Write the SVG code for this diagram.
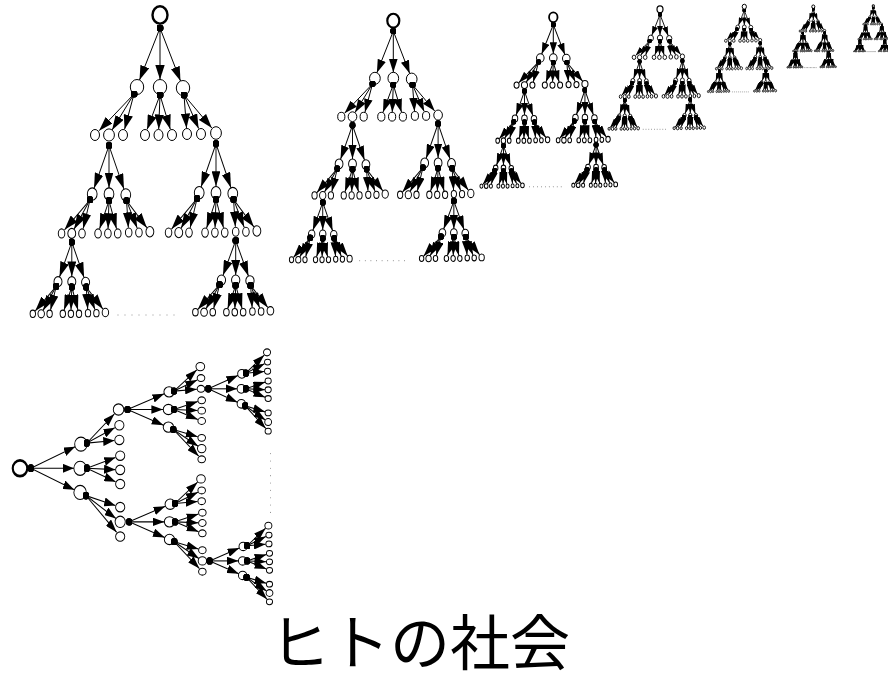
<svg xmlns="http://www.w3.org/2000/svg" width="888" height="673" viewBox="0 0 888 673">
<style>
.e{fill:#fff;stroke:#000}
.a{fill:none;stroke:#000}
.r{fill:#fff;stroke:#000}
.dl{fill:none;stroke:#777;stroke-dasharray:0 7;stroke-linecap:round;marker-start:none;marker-end:none}
.ttl{font-family:"Noto Sans CJK JP",sans-serif;font-size:60px;fill:#000}
</style>
<defs>
<marker id="m1" viewBox="0 0 10 6.5" refX="10" refY="3.25" markerWidth="14.5" markerHeight="9.4" orient="auto" markerUnits="strokeWidth"><path d="M0,0L10,3.25L0,6.5z"/></marker>
<marker id="m2" viewBox="0 0 10 6.5" refX="10" refY="3.25" markerWidth="13.3" markerHeight="8.6" orient="auto" markerUnits="strokeWidth"><path d="M0,0L10,3.25L0,6.5z"/></marker>
<marker id="m3" viewBox="0 0 10 6.5" refX="10" refY="3.25" markerWidth="11.4" markerHeight="7.4" orient="auto" markerUnits="strokeWidth"><path d="M0,0L10,3.25L0,6.5z"/></marker>
<marker id="m4" viewBox="0 0 10 6.5" refX="10" refY="3.25" markerWidth="10.2" markerHeight="6.6" orient="auto" markerUnits="strokeWidth"><path d="M0,0L10,3.25L0,6.5z"/></marker>
<marker id="m5" viewBox="0 0 10 6.5" refX="10" refY="3.25" markerWidth="9.6" markerHeight="6.2" orient="auto" markerUnits="strokeWidth"><path d="M0,0L10,3.25L0,6.5z"/></marker>
<marker id="m6" viewBox="0 0 10 6.5" refX="10" refY="3.25" markerWidth="8.4" markerHeight="5.5" orient="auto" markerUnits="strokeWidth"><path d="M0,0L10,3.25L0,6.5z"/></marker>
<marker id="m7" viewBox="0 0 10 6.5" refX="10" refY="3.25" markerWidth="8" markerHeight="5.2" orient="auto" markerUnits="strokeWidth"><path d="M0,0L10,3.25L0,6.5z"/></marker>
<marker id="m8" viewBox="0 0 10 6.5" refX="10" refY="3.25" markerWidth="12.5" markerHeight="8.1" orient="auto" markerUnits="strokeWidth"><path d="M0,0L10,3.25L0,6.5z"/></marker>
<marker id="d1" viewBox="-1 -1 2 2" markerWidth="7" markerHeight="7" markerUnits="strokeWidth"><circle r="1"/></marker>
<marker id="d2" viewBox="-1 -1 2 2" markerWidth="6.4" markerHeight="6.4" markerUnits="strokeWidth"><circle r="1"/></marker>
<marker id="d3" viewBox="-1 -1 2 2" markerWidth="5.4" markerHeight="5.4" markerUnits="strokeWidth"><circle r="1"/></marker>
<marker id="d4" viewBox="-1 -1 2 2" markerWidth="5" markerHeight="5" markerUnits="strokeWidth"><circle r="1"/></marker>
<marker id="d5" viewBox="-1 -1 2 2" markerWidth="4.6" markerHeight="4.6" markerUnits="strokeWidth"><circle r="1"/></marker>
<marker id="d6" viewBox="-1 -1 2 2" markerWidth="4" markerHeight="4" markerUnits="strokeWidth"><circle r="1"/></marker>
<marker id="d7" viewBox="-1 -1 2 2" markerWidth="3.8" markerHeight="3.8" markerUnits="strokeWidth"><circle r="1"/></marker>
<marker id="d8" viewBox="-1 -1 2 2" markerWidth="7" markerHeight="7" markerUnits="strokeWidth"><circle r="1"/></marker>
<g id="U">
<ellipse class="e" cx="-23" cy="72" rx="6.7" ry="7.5"/>
<ellipse class="e" cx="0" cy="72" rx="6.7" ry="7.5"/>
<ellipse class="e" cx="23" cy="73" rx="6.7" ry="7.5"/>
<line class="a" x1="0" y1="13" x2="-20.5" y2="65"/>
<line class="a" x1="0" y1="13" x2="0" y2="64.5"/>
<line class="a" x1="0" y1="13" x2="20.5" y2="66"/>
<line class="a" x1="-26" y1="79" x2="-60.9" y2="115.7"/>
<line class="a" x1="-26" y1="79" x2="-47.9" y2="114.9"/>
<line class="a" x1="-26" y1="79" x2="-35.4" y2="114.2"/>
<line class="a" x1="0" y1="80" x2="-12.9" y2="114.4"/>
<line class="a" x1="0" y1="80" x2="-1.3" y2="114"/>
<line class="a" x1="0" y1="80" x2="10.3" y2="114.3"/>
<line class="a" x1="24" y1="80" x2="26.5" y2="113"/>
<line class="a" x1="24" y1="80" x2="38.6" y2="113.5"/>
<line class="a" x1="24" y1="80" x2="51.8" y2="113"/>
<ellipse class="e" cx="-65" cy="120" rx="4.5" ry="5.5"/>
<ellipse class="e" cx="-51" cy="120" rx="5.4" ry="6.1"/>
<ellipse class="e" cx="-37" cy="120" rx="4.5" ry="5.5"/>
<ellipse class="e" cx="-15" cy="120" rx="4.5" ry="5.5"/>
<ellipse class="e" cx="-1.5" cy="120" rx="4.5" ry="5.5"/>
<ellipse class="e" cx="12" cy="120" rx="4.5" ry="5.5"/>
<ellipse class="e" cx="27" cy="119" rx="4.5" ry="5.5"/>
<ellipse class="e" cx="41" cy="119" rx="4.5" ry="5.5"/>
<ellipse class="e" cx="56" cy="118" rx="5.4" ry="6.3"/>
</g>
</defs>
<g id="tree1" transform="translate(160,15)" marker-start="url(#d1)" marker-end="url(#m1)">
<ellipse class="r" rx="7.5" ry="8.7" stroke-width="2.4"/>
<use href="#U" stroke-width="1"/>
<use href="#U" transform="translate(-51,120) scale(0.73,0.82)" stroke-width="1.29"/>
<use href="#U" transform="translate(56,118) scale(0.73,0.83)" stroke-width="1.28"/>
<use href="#U" transform="translate(-88.2,218.4) scale(0.6,0.67)" stroke-width="1.57"/>
<use href="#U" transform="translate(75.7,216.8) scale(0.62,0.67)" stroke-width="1.55"/>
<line class="dl" x1="-42" y1="300" x2="20" y2="300" stroke-width="1"/>
</g>
<g id="tree2" transform="translate(393.3,20.7) scale(0.8)" marker-start="url(#d2)" marker-end="url(#m2)">
<ellipse class="r" rx="7.5" ry="8.7" stroke-width="2.75"/>
<use href="#U" stroke-width="1.25"/>
<use href="#U" transform="translate(-51,120) scale(0.73,0.82)" stroke-width="1.61"/>
<use href="#U" transform="translate(56,118) scale(0.73,0.83)" stroke-width="1.6"/>
<use href="#U" transform="translate(-88.2,218.4) scale(0.6,0.67)" stroke-width="1.96"/>
<use href="#U" transform="translate(75.7,216.8) scale(0.62,0.67)" stroke-width="1.94"/>
<line class="dl" x1="-42" y1="300" x2="20" y2="300" stroke-width="1.25"/>
</g>
<g id="tree3" transform="translate(553.3,17.3) scale(0.565)" marker-start="url(#d3)" marker-end="url(#m3)">
<ellipse class="r" rx="7.5" ry="8.7" stroke-width="3.2"/>
<use href="#U" stroke-width="1.77"/>
<use href="#U" transform="translate(-51,120) scale(0.73,0.82)" stroke-width="2.28"/>
<use href="#U" transform="translate(56,118) scale(0.73,0.83)" stroke-width="2.27"/>
<use href="#U" transform="translate(-88.2,218.4) scale(0.6,0.67)" stroke-width="2.78"/>
<use href="#U" transform="translate(75.7,216.8) scale(0.62,0.67)" stroke-width="2.74"/>
<line class="dl" x1="-42" y1="300" x2="20" y2="300" stroke-width="1.77"/>
</g>
<g id="tree4" transform="translate(660,9.3) scale(0.4)" marker-start="url(#d4)" marker-end="url(#m4)">
<ellipse class="r" rx="7.5" ry="8.7" stroke-width="3"/>
<use href="#U" stroke-width="2.25"/>
<use href="#U" transform="translate(-51,120) scale(0.73,0.82)" stroke-width="2.9"/>
<use href="#U" transform="translate(56,118) scale(0.73,0.83)" stroke-width="2.88"/>
<use href="#U" transform="translate(-88.2,218.4) scale(0.6,0.67)" stroke-width="3.53"/>
<use href="#U" transform="translate(75.7,216.8) scale(0.62,0.67)" stroke-width="3.49"/>
<line class="dl" x1="-42" y1="300" x2="20" y2="300" stroke-width="2.25"/>
</g>
<g id="tree5" transform="translate(744.3,6.7) scale(0.284)" marker-start="url(#d5)" marker-end="url(#m5)">
<ellipse class="r" rx="7.5" ry="8.7" stroke-width="3.5"/>
<use href="#U" stroke-width="2.82"/>
<use href="#U" transform="translate(-51,120) scale(0.73,0.82)" stroke-width="3.64"/>
<use href="#U" transform="translate(56,118) scale(0.73,0.83)" stroke-width="3.61"/>
<use href="#U" transform="translate(-88.2,218.4) scale(0.6,0.67)" stroke-width="4.43"/>
<use href="#U" transform="translate(75.7,216.8) scale(0.62,0.67)" stroke-width="4.37"/>
<line class="dl" x1="-42" y1="300" x2="20" y2="300" stroke-width="2.82"/>
</g>
<g id="tree6" transform="translate(813.3,6.7) scale(0.203)" marker-start="url(#d6)" marker-end="url(#m6)">
<ellipse class="r" rx="7.5" ry="8.7" stroke-width="4.9"/>
<use href="#U" stroke-width="3.94"/>
<use href="#U" transform="translate(-51,120) scale(0.73,0.82)" stroke-width="5.08"/>
<use href="#U" transform="translate(56,118) scale(0.73,0.83)" stroke-width="5.04"/>
<use href="#U" transform="translate(-88.2,218.4) scale(0.6,0.67)" stroke-width="6.19"/>
<use href="#U" transform="translate(75.7,216.8) scale(0.62,0.67)" stroke-width="6.11"/>
<line class="dl" x1="-42" y1="300" x2="20" y2="300" stroke-width="3.94"/>
</g>
<g id="tree7" transform="translate(873.3,6) scale(0.152)" marker-start="url(#d7)" marker-end="url(#m7)">
<ellipse class="r" rx="7.5" ry="8.7" stroke-width="6.6"/>
<use href="#U" stroke-width="4.6"/>
<use href="#U" transform="translate(-51,120) scale(0.73,0.82)" stroke-width="5.93"/>
<use href="#U" transform="translate(56,118) scale(0.73,0.83)" stroke-width="5.89"/>
<use href="#U" transform="translate(-88.2,218.4) scale(0.6,0.67)" stroke-width="7.22"/>
<use href="#U" transform="translate(75.7,216.8) scale(0.62,0.67)" stroke-width="7.13"/>
<line class="dl" x1="-42" y1="300" x2="20" y2="300" stroke-width="4.6"/>
</g>
<g id="treeH" transform="matrix(0,-1.05,0.835,0,20,468.3)" marker-start="url(#d8)" marker-end="url(#m8)">
<ellipse class="r" rx="7.5" ry="8.7" stroke-width="2.57"/>
<use href="#U" stroke-width="1.07"/>
<use href="#U" transform="translate(-51,120) scale(0.73,0.82)" stroke-width="1.38"/>
<use href="#U" transform="translate(56,118) scale(0.73,0.83)" stroke-width="1.37"/>
<use href="#U" transform="translate(-88.2,218.4) scale(0.6,0.67)" stroke-width="1.68"/>
<use href="#U" transform="translate(75.7,216.8) scale(0.62,0.67)" stroke-width="1.66"/>
<line class="dl" x1="-42" y1="300" x2="20" y2="300" stroke-width="1.07"/>
</g>
<text class="ttl" x="420" y="665" text-anchor="middle">ヒトの社会</text>
</svg>
